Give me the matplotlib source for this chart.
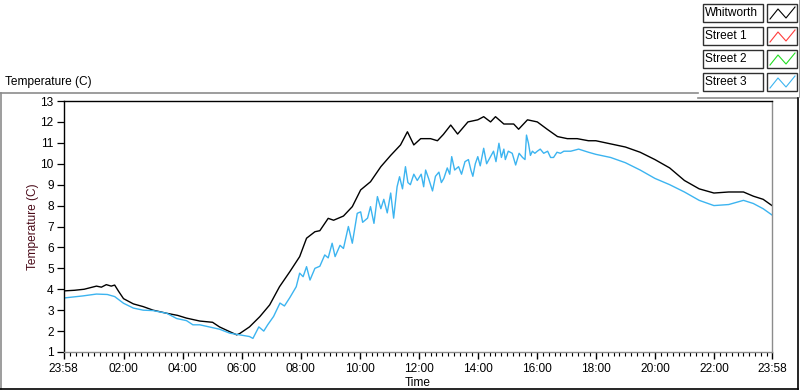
import matplotlib
matplotlib.use("Agg")
import matplotlib.pyplot as plt
from matplotlib.patches import Rectangle
from matplotlib.ticker import FixedLocator

# ---------------- data ----------------
series_names = ["Whitworth", "Street 1", "Street 2", "Street 3"]
series_colors = ["#000000", "#ff3c3c", "#22dd22", "#3cb4f0"]

whit_times = ["23:58", "00:20", "00:40", "01:05", "01:15", "01:25", "01:35", "01:42", "01:50",
              "02:00", "02:20", "02:40", "03:00", "03:28", "03:50", "04:08", "04:35", "05:01",
              "05:15", "05:36", "05:50", "05:56", "06:16", "06:37", "06:57", "07:17", "07:38",
              "07:58", "08:12", "08:29", "08:39", "08:56", "09:07", "09:27", "09:45", "10:02",
              "10:22", "10:43", "11:03", "11:23", "11:37", "11:50", "12:04", "12:24", "12:38",
              "12:50", "13:05", "13:19", "13:40", "14:00", "14:12", "14:26", "14:36", "14:53",
              "15:13", "15:23", "15:41", "16:01", "16:21", "16:42", "17:02", "17:22", "17:45",
              "18:00", "18:30", "19:00", "19:30", "20:00", "20:30", "21:00", "21:30", "22:00",
              "22:30", "23:00", "23:20", "23:40", "23:58"]
whit_temps = [3.92, 3.95, 4.0, 4.15, 4.1, 4.22, 4.15, 4.2, 3.9,
              3.55, 3.3, 3.17, 3.0, 2.85, 2.75, 2.62, 2.48, 2.42,
              2.2, 1.97, 1.82, 1.88, 2.2, 2.69, 3.25, 4.12, 4.84,
              5.56, 6.44, 6.75, 6.8, 7.39, 7.3, 7.5, 7.95, 8.75,
              9.14, 9.86, 10.4, 10.9, 11.53, 10.9, 11.2, 11.2, 11.1,
              11.4, 11.85, 11.42, 12.0, 12.1, 12.25, 12.0, 12.25, 11.9,
              11.9, 11.65, 12.1, 12.0, 11.65, 11.3, 11.2, 11.2, 11.1,
              11.1, 10.95, 10.8, 10.55, 10.2, 9.8, 9.2, 8.8, 8.6,
              8.65, 8.65, 8.45, 8.3, 8.0]

st3_times = ["23:58", "00:37", "01:05", "01:27", "01:42", "02:00", "02:20", "02:40", "03:00",
             "03:28", "03:48", "04:08", "04:21", "04:35", "05:15", "05:36", "05:56", "06:16",
             "06:23", "06:35", "06:45", "06:53", "07:05", "07:18", "07:27", "07:38", "07:51",
             "07:58", "08:05", "08:12", "08:19", "08:29", "08:39", "08:49", "08:56", "09:04",
             "09:10", "09:20", "09:27", "09:37", "09:45", "09:55", "10:02", "10:06", "10:16",
             "10:22", "10:29", "10:36", "10:43", "10:49", "10:56", "11:03", "11:09", "11:16",
             "11:21", "11:27", "11:33", "11:38", "11:43", "11:50", "11:57", "12:05", "12:10",
             "12:14", "12:20", "12:28", "12:34", "12:41", "12:46", "12:51", "12:58", "13:03",
             "13:07", "13:13", "13:21", "13:27", "13:34", "13:41", "13:46", "13:50", "13:55",
             "14:00", "14:05", "14:12", "14:18", "14:26", "14:32", "14:37", "14:43", "14:48",
             "14:53", "14:56", "15:02", "15:10", "15:17", "15:24", "15:31", "15:36", "15:39",
             "15:43", "15:47", "15:51", "15:56", "16:01", "16:07", "16:14", "16:22", "16:28",
             "16:34", "16:41", "16:48", "16:55", "17:02", "17:09", "17:25", "17:45", "18:00",
             "18:30", "19:00", "19:30", "20:00", "20:30", "21:00", "21:30", "22:00", "22:30",
             "23:00", "23:20", "23:40", "23:58"]
st3_temps = [3.58, 3.68, 3.77, 3.75, 3.65, 3.33, 3.1, 3.0, 2.98,
             2.85, 2.6, 2.5, 2.3, 2.3, 2.09, 1.9, 1.82, 1.74,
             1.65, 2.2, 2.0, 2.3, 2.7, 3.34, 3.2, 3.6, 4.12,
             4.77, 4.6, 5.08, 4.44, 5.0, 5.1, 5.64, 5.5, 6.2,
             5.56, 6.1, 5.95, 7.0, 6.2, 7.63, 7.7, 7.2, 7.4,
             7.95, 7.15, 8.43, 7.85, 8.3, 7.65, 8.6, 7.4, 8.9,
             9.38, 8.8, 9.86, 9.1, 9.0, 9.5, 9.2, 9.5, 8.9,
             9.7, 9.3, 8.7, 9.4, 9.6, 9.1, 9.3, 9.8, 9.5,
             10.34, 9.7, 9.86, 9.5, 10.1, 10.2, 9.7, 9.4, 10.0,
             10.34, 9.9, 10.74, 10.0, 10.34, 10.6, 10.1, 10.98, 10.3,
             10.7, 10.2, 10.6, 10.5, 9.94, 10.5, 10.3, 10.2, 11.37,
             10.98, 10.4, 10.6, 10.5, 10.6, 10.7, 10.5, 10.6, 10.3,
             10.3, 10.55, 10.5, 10.6, 10.6, 10.6, 10.7, 10.55, 10.45,
             10.3, 10.05, 9.7, 9.3, 9.0, 8.65, 8.25, 8.0, 8.05,
             8.25, 8.1, 7.85, 7.55]

x_tick_labels = ["23:58", "02:00", "04:00", "06:00", "08:00", "10:00", "12:00",
                 "14:00", "16:00", "18:00", "20:00", "22:00", "23:58"]
y_ticks = list(range(1, 14))
y_label = "Temperature (C)"
x_label = "Time"
chart_title = "Temperature (C)"


def to_hours(lst):
    out = []
    for i, s in enumerate(lst):
        h = int(s[:2]) + int(s[3:]) / 60.0
        if i == 0 and h > 12:
            h -= 24.0
        out.append(h)
    return out


whit_x = to_hours(whit_times)
st3_x = to_hours(st3_times)
xt = to_hours(x_tick_labels)
x0, x1 = xt[0], xt[-1]

series_x = [whit_x, [], [], st3_x]
series_y = [whit_temps, [], [], st3_temps]

# ---------------- figure ----------------
plt.rcParams["font.family"] = ["Liberation Sans", "DejaVu Sans"]
FS = 8.6
W, H = 800, 392
fig = plt.figure(figsize=(W / 100, H / 100), dpi=100, facecolor="white")

# overlay for panel frame & legend (pixel coordinates)
ov = fig.add_axes([0, 0, 1, 1], zorder=0)
ov.set_xlim(0, W)
ov.set_ylim(H, 0)
ov.axis("off")

gray = "#8c8c8c"
ov.plot([0, 698], [92.5, 92.5], color=gray, lw=1.2)
ov.plot([698, 797], [97.5, 97.5], color=gray, lw=1.2)
ov.plot([1, 1], [92.5, 389], color=gray, lw=1.2)
ov.plot([0, 797.5], [389, 389], color="black", lw=1.2)
ov.plot([797.5, 797.5], [97.5, 389], color="black", lw=1.2)
ov.plot([799.5, 799.5], [0, 97], color=gray, lw=1.2)

ov.text(5, 82, chart_title, fontsize=FS, ha="left", va="center", color="black")

# legend
row_top = [4, 27, 50, 73]
for i, (name, col) in enumerate(zip(series_names, series_colors)):
    t = row_top[i]
    ov.add_patch(Rectangle((703, t), 60, 17.5, facecolor="white",
                           edgecolor="#303030", lw=1.0))
    ov.add_patch(Rectangle((767, t), 30, 17.5, facecolor="white",
                           edgecolor="#303030", lw=1.0))
    ov.text(705, t + 9, name, fontsize=FS, ha="left", va="center", color="black")
    ix = [770, 778, 786, 795]
    iy = [t + 15, t + 5, t + 14, t + 3]
    ov.plot(ix, iy, color=col, lw=0.8)

# main plot axes
L, R, T, B = 63.5, 772, 101, 352
ax = fig.add_axes([L / W, 1 - B / H, (R - L) / W, (B - T) / H], zorder=2)
ax.set_facecolor("white")

for xs, ys, col in zip(series_x, series_y, series_colors):
    if len(xs):
        ax.plot(xs, ys, color=col, lw=1.0)

ax.set_xlim(x0, x1)
ax.set_ylim(1, 13)

ax.set_yticks(y_ticks)
ax.set_yticklabels([str(v) for v in y_ticks])
ax.set_xticks(xt)
ax.set_xticklabels(x_tick_labels)
minor = [m / 5.0 for m in range(1, 120) if m % 10 != 0]
ax.xaxis.set_minor_locator(FixedLocator(minor))

ax.tick_params(axis="y", direction="out", length=5, width=0.9, pad=2,
               labelsize=FS, color="black")
ax.tick_params(axis="x", which="major", direction="out", length=5, width=1.0,
               pad=3, labelsize=FS, color="black")
ax.tick_params(axis="x", which="minor", direction="out", length=3, width=0.8,
               color="black")

for side in ["top", "left"]:
    ax.spines[side].set_color("black")
    ax.spines[side].set_linewidth(1.0)
for side in ["right", "bottom"]:
    ax.spines[side].set_color(gray)
    ax.spines[side].set_linewidth(1.0)

ax.set_ylabel(y_label, fontsize=FS, color="#4a0a18", labelpad=1)
ax.set_xlabel(x_label, fontsize=FS, color="black", labelpad=1)

fig.savefig("out.png", dpi=100, facecolor="white")
